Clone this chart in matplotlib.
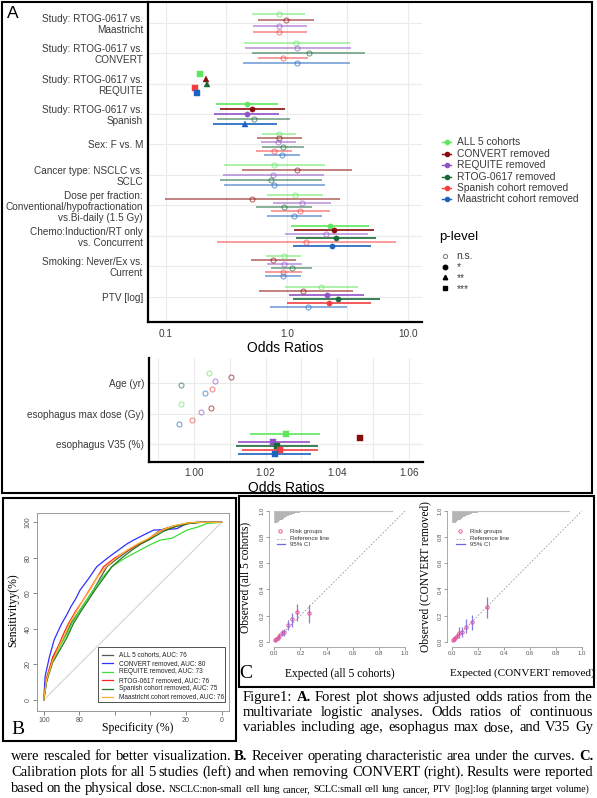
import numpy as np
import matplotlib
matplotlib.use("Agg")
import matplotlib.pyplot as plt
from matplotlib.patches import Rectangle
from matplotlib.ticker import NullLocator

W, H = 597, 798
SANS = ["Liberation Sans", "DejaVu Sans"]
SERIF = ["Liberation Serif", "DejaVu Serif"]
plt.rcParams["font.family"] = SANS
TXT = "#3a3a3a"
GRID = "#EBEBEB"
NAN = np.nan

# ---------------- Panel A data ----------------
model_names = ["ALL 5 cohorts", "CONVERT removed", "REQUITE removed",
               "RTOG-0617 removed", "Spanish cohort removed", "Maastricht cohort removed"]
model_colors = ["#5EE65E", "#8B0A0A", "#9152C6", "#18693A", "#F23E3E", "#1C63BE"]

terms = ["Study: RTOG-0617 vs.\nMaastricht", "Study: RTOG-0617 vs.\nCONVERT",
         "Study: RTOG-0617 vs.\nREQUITE", "Study: RTOG-0617 vs.\nSpanish",
         "Sex: F vs. M", "Cancer type: NSCLC vs.\nSCLC",
         "Dose per fraction:\nConventional/hypofractionation\nvs.Bi-daily (1.5 Gy)",
         "Chemo:Induction/RT only\nvs. Concurrent", "Smoking: Never/Ex vs.\nCurrent",
         "PTV [log]"]

# significance: 0 = n.s., 1 = *, 2 = **, 3 = ***
est_all5 = [0.858, 1.194, 0.190, 0.468, 0.863, 0.784, 1.179, 2.288, 0.944, 1.925]
lo_all5 = [0.518, 0.442, NAN, 0.2575, 0.624, 0.300, 0.686, 1.092, 0.677, 0.968]
hi_all5 = [1.427, 3.31, NAN, 0.852, 1.188, 2.068, 1.99, 4.76, 1.307, 3.855]
sig_all5 = [0, 0, 3, 1, 0, 0, 0, 1, 0, 0]

est_convert = [0.987, NAN, 0.214, 0.518, 0.868, 1.218, 0.518, 2.455, 0.770, 1.358]
lo_convert = [0.581, NAN, NAN, 0.278, 0.564, 0.428, 0.0977, 1.156, 0.503, 0.586]
hi_convert = [1.685, NAN, NAN, 0.968, 1.332, 3.46, 2.77, 5.23, 1.194, 3.55]
sig_convert = [0, 0, 2, 1, 0, 0, 0, 1, 0, 0]

est_requite = [0.868, 1.225, NAN, 0.468, 0.847, 0.774, 1.34, 2.107, 0.944, 2.148]
lo_requite = [0.528, 0.448, NAN, 0.251, 0.612, 0.296, 0.774, 0.962, 0.682, 1.051]
hi_requite = [1.466, 3.40, NAN, 0.868, 1.188, 2.05, 2.32, 4.67, 1.332, 4.32]
sig_requite = [0, 0, 0, 1, 0, 0, 0, 0, 0, 1]

est_rtog = [NAN, 1.523, 0.219, 0.532, 0.927, 0.737, 0.944, 2.551, 1.106, 2.63]
lo_rtog = [NAN, 0.518, NAN, 0.2655, 0.627, 0.2796, 0.556, 1.194, 0.745, 1.134]
hi_rtog = [NAN, 4.41, NAN, 1.059, 1.384, 1.952, 1.62, 5.43, 1.631, 5.95]
sig_rtog = [0, 0, 2, 0, 0, 0, 0, 1, 0, 1]

est_spanish = [0.868, 0.937, 0.173, NAN, 0.789, NAN, 1.297, 1.438, 0.937, 2.244]
lo_spanish = [0.522, 0.581, NAN, NAN, 0.559, NAN, 0.741, 0.2655, 0.66, 1.012]
hi_spanish = [1.466, 1.494, NAN, NAN, 1.113, NAN, 2.288, 7.97, 1.348, 4.94]
sig_spanish = [0, 0, 3, 0, 0, 0, 0, 0, 0, 1]

est_maas = [NAN, 1.21, 0.180, 0.453, 0.914, 0.789, 1.15, 2.363, 0.937, 1.503]
lo_maas = [NAN, 0.436, NAN, 0.247, 0.648, 0.302, 0.68, 1.121, 0.66, 0.727]
hi_maas = [NAN, 3.31, NAN, 0.826, 1.297, 2.068, 1.963, 4.98, 1.307, 3.146]
sig_maas = [0, 0, 3, 2, 0, 0, 0, 1, 0, 0]

# continuous variables (rescaled)
terms2 = ["Age (yr)", "esophagus max dose (Gy)", "esophagus V35 (%)"]
est2_all5 = [1.0041, 0.99652, 1.0256]
lo2_all5 = [NAN, NAN, 1.0158]
hi2_all5 = [NAN, NAN, 1.0353]
est2_convert = [1.0103, 1.00465, 1.0463]
lo2_convert = [NAN, NAN, NAN]
hi2_convert = [NAN, NAN, NAN]
est2_requite = [1.0060, 1.00195, 1.0221]
lo2_requite = [NAN, NAN, 1.0122]
hi2_requite = [NAN, NAN, 1.0323]
est2_rtog = [0.9965, NAN, 1.0231]
lo2_rtog = [NAN, NAN, 1.0118]
hi2_rtog = [NAN, NAN, 1.0346]
est2_spanish = [1.0052, 0.99936, 1.0239]
lo2_spanish = [NAN, NAN, 1.0133]
hi2_spanish = [NAN, NAN, 1.0345]
est2_maas = [1.0031, 0.9959, 1.0225]
lo2_maas = [NAN, NAN, 1.0123]
hi2_maas = [NAN, NAN, 1.0328]
sig2 = [0, 0, 3]

# ---------------- Panel B data (ROC) ----------------
roc_labels = ["ALL 5 cohorts, AUC: 76", "CONVERT removed, AUC: 80", "REQUITE removed, AUC: 73",
              "RTOG-0617 removed, AUC: 76", "Spanish cohort removed, AUC: 75",
              "Maastricht cohort removed, AUC: 76"]
roc_colors = ["#555555", "#3030FF", "#3ADF3A", "#FF2424", "#237A23", "#FFB22C"]
spec_all5 = [100, 98, 94.6, 91, 87.5, 84.8, 80, 76, 72, 68, 64.5, 58, 52, 47, 42, 34.5, 27, 19.5, 14, 0]
sens_all5 = [0, 13, 24.3, 31, 37, 43, 50, 56, 62, 69, 75, 80, 84.4, 87.5, 90, 95.6, 98, 99.4, 100, 100]
spec_convert = [100, 99.3, 96.8, 94.2, 92, 89.9, 87, 84.8, 82, 79.6, 75, 70.2, 64, 58, 53, 49.5, 44,
                38.3, 30, 25, 19.5, 12, 0]
sens_convert = [0, 13, 24.3, 33.7, 38.5, 43, 48, 52.4, 57, 61.8, 68, 75, 80, 84.4, 88, 90, 92.8,
                95.6, 96, 96.5, 99.4, 100, 100]
spec_requite = [100, 98.5, 95, 91, 87, 84.2, 80, 76, 72, 67, 61.7, 54, 45.8, 40, 34.5, 28, 19.5, 13, 8.2, 0]
sens_requite = [0, 11, 22, 30, 37, 43, 50, 56, 62, 69, 75, 80, 84.4, 87.5, 90, 91, 95.6, 97.5, 99.4, 100]
spec_rtog = [100, 98.5, 95, 91.5, 88.5, 86.1, 82, 78, 74.3, 70, 66.4, 60, 52.3, 47, 42, 34.5, 27, 19.5, 13, 0]
sens_rtog = [0, 12, 24, 31, 38, 43, 50, 56, 62, 69, 75, 80, 84.4, 87.5, 90, 95, 97.5, 99.4, 100, 100]
spec_spanish = [100, 98.5, 95, 91, 87, 83.3, 79, 75, 71.1, 66, 61.7, 56, 50.4, 45, 41, 32.6, 26, 17.6, 12, 0]
sens_spanish = [0, 10, 21, 28, 35, 43, 50, 56, 62, 69, 75, 80, 84.4, 88, 90, 95, 97.5, 99.4, 100, 100]
spec_maas = [100, 98.5, 95, 91.5, 88, 85.5, 81.5, 78, 74, 70, 65, 59, 53, 47, 41, 34, 27, 20, 15, 0]
sens_maas = [0, 11, 22, 30, 37, 43, 50, 56, 62, 69, 75, 80, 84.4, 88, 91, 95.5, 98, 99.5, 100, 100]

# ---------------- Panel C data (calibration) ----------------
cal1_x = [0.005, 0.013, 0.026, 0.038, 0.056, 0.077, 0.107, 0.138, 0.176, 0.265]
cal1_y = [0.013, 0.018, 0.031, 0.046, 0.064, 0.077, 0.128, 0.171, 0.230, 0.222]
cal1_lo = [0.005, 0.008, 0.018, 0.025, 0.040, 0.043, 0.089, 0.115, 0.160, 0.145]
cal1_hi = [0.020, 0.030, 0.045, 0.068, 0.090, 0.100, 0.166, 0.222, 0.286, 0.280]
cal2_x = [0.005, 0.010, 0.021, 0.034, 0.052, 0.072, 0.106, 0.150, 0.265]
cal2_y = [0.013, 0.018, 0.031, 0.046, 0.069, 0.077, 0.115, 0.153, 0.263]
cal2_lo = [0.005, 0.008, 0.018, 0.025, 0.026, 0.038, 0.069, 0.089, 0.180]
cal2_hi = [0.020, 0.030, 0.045, 0.070, 0.110, 0.115, 0.171, 0.204, 0.340]
hist_x = [0.01, 0.02, 0.03, 0.04, 0.05, 0.06, 0.07, 0.08, 0.09, 0.10, 0.11, 0.12, 0.13, 0.14, 0.15,
          0.16, 0.17, 0.18, 0.19, 0.20, 0.21, 0.22, 0.23, 0.24, 0.25, 0.26, 0.27, 0.28, 0.29, 0.30]
hist_h = [0.09, 0.085, 0.08, 0.07, 0.065, 0.06, 0.05, 0.045, 0.04, 0.035, 0.03, 0.028, 0.025, 0.02,
          0.018, 0.015, 0.013, 0.012, 0.010, 0.009, 0.008, 0.007, 0.006, 0.006, 0.005, 0.005, 0.004,
          0.004, 0.003, 0.003]
hist_max = 0.9

# ====================================================
fig = plt.figure(figsize=(W / 100, H / 100), dpi=100)


def px_axes(x0, y0, x1, y1):
    a = fig.add_axes([x0 / W, 1 - y1 / H, (x1 - x0) / W, (y1 - y0) / H])
    a.patch.set_alpha(0)
    return a


MARK = {0: "o", 1: "o", 2: "^", 3: "s"}
MSIZE = {0: 3.6, 1: 3.8, 2: 4.3, 3: 3.7}


def draw_forest(ax, ests, los, his, sigs, fixed=False):
    nterm = len(ests[0])
    for t in range(nterm):
        present = [m for m in range(6) if not np.isnan(ests[m][t])]
        slots = list(range(6)) if fixed else present
        n = len(slots)
        for m in present:
            k = slots.index(m)
            y = t + 1 + (k - (n - 1) / 2) * 0.8 / n
            col = model_colors[m]
            s = sigs[m][t]
            a = 0.6 if s == 0 else 1.0
            if not np.isnan(los[m][t]):
                ax.plot([los[m][t], his[m][t]], [y, y], color=col, lw=1.2, alpha=a,
                        solid_capstyle="butt", zorder=2)
            if s == 0:
                ax.plot(ests[m][t], y, marker="o", ms=MSIZE[0], mfc="none", mec=col, mew=0.8,
                        alpha=a, zorder=3, ls="none")
            else:
                ax.plot(ests[m][t], y, marker=MARK[s], ms=MSIZE[s], mfc=col, mec=col, mew=0.3,
                        zorder=3, ls="none")


def style_forest(ax):
    for s in ["top", "right"]:
        ax.spines[s].set_visible(False)
    for s in ["left", "bottom"]:
        ax.spines[s].set_linewidth(1.6)
        ax.spines[s].set_color("black")
    ax.tick_params(length=0, labelsize=7.2, labelcolor=TXT)


# ---- forest 1 ----
ax1 = px_axes(148, 2, 422, 322)
ax1.set_xscale("log")
ax1.set_xlim(10 ** -1.149, 10 ** 1.119)
ax1.set_ylim(10.83, 0.32)
for gx in [0.1, 10 ** -0.5, 1, 10 ** 0.5, 10]:
    ax1.axvline(gx, color=GRID, lw=0.8, zorder=0)
for gy in range(1, 11):
    ax1.axhline(gy, color=GRID, lw=0.8, zorder=0)
draw_forest(ax1, [est_all5, est_convert, est_requite, est_rtog, est_spanish, est_maas],
            [lo_all5, lo_convert, lo_requite, lo_rtog, lo_spanish, lo_maas],
            [hi_all5, hi_convert, hi_requite, hi_rtog, hi_spanish, hi_maas],
            [sig_all5, sig_convert, sig_requite, sig_rtog, sig_spanish, sig_maas])
style_forest(ax1)
ax1.set_xticks([0.1, 1, 10])
ax1.set_xticklabels(["0.1", "1.0", "10.0"])
ax1.xaxis.set_minor_locator(NullLocator())
ax1.set_yticks(range(1, 11))
ax1.set_yticklabels(terms, linespacing=1.15)
ax1.tick_params(axis="y", pad=3.6)
ax1.tick_params(axis="x", pad=5)

# ---- forest 2 ----
ax2 = px_axes(149, 358, 423, 462)
ax2.set_xlim(0.9875, 1.0639)
ax2.set_ylim(3.593, 0.166)
for gx in [0.99, 1.00, 1.01, 1.02, 1.03, 1.04, 1.05, 1.06]:
    ax2.axvline(gx, color=GRID, lw=0.8, zorder=0)
for gy in range(1, 4):
    ax2.axhline(gy, color=GRID, lw=0.8, zorder=0)
sig2_all = [sig2] * 6
draw_forest(ax2, [est2_all5, est2_convert, est2_requite, est2_rtog, est2_spanish, est2_maas],
            [lo2_all5, lo2_convert, lo2_requite, lo2_rtog, lo2_spanish, lo2_maas],
            [hi2_all5, hi2_convert, hi2_requite, hi2_rtog, hi2_spanish, hi2_maas],
            sig2_all, fixed=True)
style_forest(ax2)
ax2.set_xticks([1.00, 1.02, 1.04, 1.06])
ax2.set_xticklabels(["1.00", "1.02", "1.04", "1.06"])
ax2.set_yticks(range(1, 4))
ax2.set_yticklabels(terms2)
ax2.tick_params(axis="y", pad=3.6)
ax2.tick_params(axis="x", pad=4.3)

# ---- Panel B: ROC ----
axB = px_axes(36.7, 513.3, 228.7, 710.7)
axB.set_xlim(104, -4)
axB.set_ylim(-6.2, 105.1)
axB.plot([100, 0], [0, 100], color="#d4d4d4", lw=0.8, zorder=1)
roc_spec = [spec_all5, spec_convert, spec_requite, spec_rtog, spec_spanish, spec_maas]
roc_sens = [sens_all5, sens_convert, sens_requite, sens_rtog, sens_spanish, sens_maas]
for sp_, se_, c in zip(roc_spec, roc_sens, roc_colors):
    axB.plot(sp_, se_, color=c, lw=0.9, zorder=2)
for s in axB.spines.values():
    s.set_color("#8a8a8a")
    s.set_linewidth(0.6)
axB.set_xticks([100, 80, 60, 40, 20, 0])
axB.set_xticklabels(["100", "80", "", "", "20", "0"])
axB.set_yticks([0, 20, 40, 60, 80, 100])
axB.set_yticklabels(["0", "20", "40", "60", "80", "100"], rotation=90, va="center")
axB.tick_params(direction="out", length=3, width=0.5, labelsize=5, colors="#555555", pad=1.5)
axB.tick_params(axis="y", pad=0.8)

# ---- Panel C: calibration ----
def calib(ax, xs, ys, los, his):
    ax.set_xlim(-0.04, 1.04)
    ax.set_ylim(-0.04, 1.04)
    ax.plot([0, 1], [0, 1], color="#9a9a9a", lw=0.6, ls=(0, (2, 2)), zorder=1)
    ax.vlines(hist_x, [1.0 - h for h in hist_h], 1.0, color="#b5b5b5", lw=2.6, zorder=1)
    ax.plot([0.0, hist_max], [0.997, 0.997], color="#c0c0c0", lw=0.8, zorder=1)
    ax.vlines(xs, los, his, color="#6868E8", lw=0.9, alpha=0.85, zorder=2)
    ax.plot(xs, ys, "o", ms=2.4, mfc="none", mec="#E8559A", mew=0.7, zorder=3)
    for s in ["top", "right"]:
        ax.spines[s].set_visible(False)
    for s in ["left", "bottom"]:
        ax.spines[s].set_color("#888888")
        ax.spines[s].set_linewidth(0.5)
        ax.spines[s].set_bounds(0, 1)
    ticks = [0, 0.2, 0.4, 0.6, 0.8, 1.0]
    ax.set_xticks(ticks)
    ax.set_xticklabels(["0.0", "0.2", "0.4", "0.6", "0.8", "1.0"])
    ax.set_yticks(ticks)
    ax.set_yticklabels(["0.0", "0.2", "0.4", "0.6", "0.8", "1.0"], rotation=90, va="center")
    ax.tick_params(direction="out", length=2, width=0.4, labelsize=4.3, colors="#555555", pad=1.2)


axC1 = px_axes(269.1, 505.8, 410.2, 646.9)
calib(axC1, cal1_x, cal1_y, cal1_lo, cal1_hi)
axC2 = px_axes(447.1, 505.8, 586.9, 646.9)
calib(axC2, cal2_x, cal2_y, cal2_lo, cal2_hi)

# ---------------- overlay (legends, labels, frames, caption) ----------------
axo = fig.add_axes([0, 0, 1, 1])
axo.set_xlim(0, W)
axo.set_ylim(H, 0)
axo.axis("off")
axo.set_zorder(10)
axo.patch.set_alpha(0)

# frames
for (x0, y0, x1, y1) in [(1.5, 1.5, 592, 493), (3, 498, 236, 741), (238.5, 496, 594, 687)]:
    axo.add_patch(Rectangle((x0, y0), x1 - x0, y1 - y0, fill=False, ec="black", lw=1.5, clip_on=False))

axo.text(7, 14, "A", fontsize=12.5, va="center", ha="left", color="black")
axo.text(285, 348, "Odds Ratios", fontsize=10, ha="center", va="center", color="black")
axo.text(286.5, 487.5, "Odds Ratios", fontsize=10, ha="center", va="center", color="black")

# legend: models
for k, (nm, col) in enumerate(zip(model_names, model_colors)):
    yy = 142.3 + 11.4 * k
    axo.plot([442.3, 451.1], [yy, yy], color=col, lw=1.0)
    axo.plot(446.7, yy, "o", ms=3.0, color=col)
    axo.text(457.3, yy, nm, fontsize=7.4, va="center", ha="left", color=TXT)

# legend: p-level
axo.text(439.3, 237.3, "p-level", fontsize=9.5, va="center", ha="left", color="black")
plev = ["n.s.", "*", "**", "***"]
for k, lab in enumerate(plev):
    yy = 255.8 + 10.8 * k
    if k == 0:
        axo.plot(445, yy, "o", ms=3.0, mfc="none", mec="#777777", mew=0.7)
    else:
        axo.plot(445, yy, MARK[k], ms=3.2, color="black")
    axo.text(456.7, yy + 3.5, lab, fontsize=7.4, va="baseline", ha="left", color=TXT)

# ROC legend
axo.add_patch(Rectangle((97.7, 646.7), 127.3, 55, fill=False, ec="#333333", lw=0.6))
for k, (lab, col) in enumerate(zip(roc_labels, roc_colors)):
    yy = 654.7 + 8.45 * k
    axo.plot([102.3, 113.3], [yy, yy], color=col, lw=0.9)
    axo.text(119, yy, lab, fontsize=4.7, va="center", ha="left", color="#222222")

axo.text(13, 610, "Sensitivityy(%)", family=SERIF, fontsize=8.5, rotation=90,
         ha="center", va="center", color="black")
axo.text(138, 728, "Specificity (%)", family=SERIF, fontsize=8.5, ha="center", va="center",
         color="black")
axo.text(18, 729, "B", family=SERIF, fontsize=14, ha="center", va="center", color="black")

# calibration labels and legends
axo.text(245, 577, "Observed (all 5 cohorts)", family=SERIF, fontsize=8.3, rotation=90,
         ha="center", va="center", color="black")
axo.text(425, 577, "Observed (CONVERT removed)", family=SERIF, fontsize=8.3, rotation=90,
         ha="center", va="center", color="black")
axo.text(340, 673.5, "Expected (all 5 cohorts)", family=SERIF, fontsize=8.3, ha="center",
         va="center", color="black")
axo.text(522, 673.5, "Expected (CONVERT removed)", family=SERIF, fontsize=8.0, ha="center",
         va="center", color="black")
axo.text(245.5, 673.5, "C", family=SERIF, fontsize=14, ha="center", va="center", color="black")
for dx in [0, 179.5]:
    axo.plot(280 + dx, 531.3, "o", ms=2.4, mfc="none", mec="#E8559A", mew=0.7)
    axo.plot([276.5 + dx, 285 + dx], [538.7, 538.7], color="#9a9a9a", lw=0.6, ls=(0, (2, 2)))
    axo.plot([276.5 + dx, 285 + dx], [544.3, 544.3], color="#6868E8", lw=0.9)
    for yy, lab in zip([531.3, 538.7, 544.3], ["Risk groups", "Reference line", "95% CI"]):
        axo.text(290 + dx, yy, lab, fontsize=4.4, va="center", ha="left", color="#333333")

# ---------------- caption (justified) ----------------
renderer = fig.canvas.get_renderer()


def justified(words, x0, x1, ybase, min_gap=2.5):
    arts = []
    for (w, bold, sz) in words:
        t = axo.text(0, ybase, w, family=SERIF, fontsize=sz,
                     fontweight="bold" if bold else "normal", va="baseline", ha="left",
                     color="black")
        arts.append(t)

    def measure():
        return [a.get_window_extent(renderer=renderer).width for a in arts]
    widths = measure()
    gap = (x1 - x0 - sum(widths)) / (len(arts) - 1)
    tries = 0
    while gap < min_gap and tries < 20:
        for a in arts:
            a.set_fontsize(a.get_fontsize() * 0.98)
        widths = measure()
        gap = (x1 - x0 - sum(widths)) / (len(arts) - 1)
        tries += 1
    x = x0
    for a, w in zip(arts, widths):
        a.set_x(x)
        x += w + gap


def words_of(s, size, bold_set=()):
    return [(w, w in bold_set, size) for w in s.split()]


CS = 10.5
justified(words_of("Figure1: A. Forest plot shows adjusted odds ratios from the", CS, {"A."}),
          243, 593, 701)
justified(words_of("multivariate logistic analyses. Odds ratios of continuous", CS), 243, 593, 716)
justified(words_of("variables including age, esophagus max dose, and V35 Gy", CS), 243, 593, 731)
justified(words_of("were rescaled for better visualization. B. Receiver operating characteristic "
                   "area under the curves. C.", CS, {"B.", "C."}), 11, 593, 760)
justified(words_of("Calibration plots for all 5 studies (left) and when removing CONVERT (right). "
                   "Results were reported", CS), 11, 593, 776)
justified(words_of("based on the physical dose.", CS) +
          words_of("NSCLC:non-small cell lung cancer, SCLC:small cell lung cancer, "
                   "PTV [log]:log (planning target volume)", 7.0), 11, 589, 792, min_gap=1.5)

fig.savefig("out.png", dpi=100)
